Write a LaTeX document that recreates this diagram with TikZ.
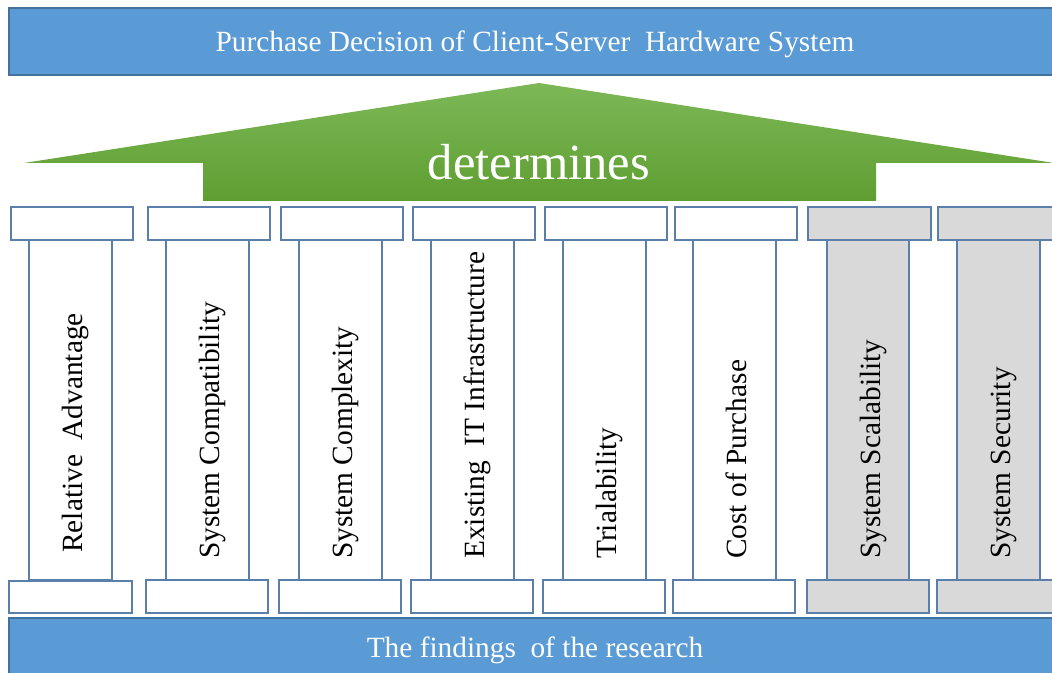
\documentclass[tikz,border=0pt]{standalone}
\usepackage{fontspec}
\setmainfont{Liberation Serif}
\definecolor{bannerblue}{HTML}{5B9BD5}
\definecolor{bannerline}{HTML}{41719C}
\definecolor{pillarline}{HTML}{5A7FAA}
\definecolor{pillargray}{HTML}{D9D9D9}
\definecolor{roofgreen}{HTML}{7DB857}
\definecolor{roofdark}{HTML}{5E9E31}

\begin{document}
\begin{tikzpicture}[x=0.75pt,y=-0.75pt,
  banner/.style={fill=bannerblue,draw=bannerline,line width=1.2pt},
  part/.style={fill=white,draw=pillarline,line width=1.1pt},
  greypart/.style={fill=pillargray,draw=pillarline,line width=1.1pt},
  bigtext/.style={text=white,font=\fontsize{22}{26}\selectfont,inner sep=0pt},
  pillartext/.style={rotate=90,anchor=base west,inner sep=0pt,font=\fontsize{22}{26}\selectfont}]

\useasboundingbox (0,0) rectangle (1052,673);
\clip (0,0) rectangle (1052,673);

%% banners
\draw [banner] (9,8) rectangle (1062,75);
\node [bigtext,anchor=base] (decision) at (535,52) {Purchase Decision of Client-Server\ \ Hardware System};
\draw [banner] (9,618) rectangle (1062,690);
\node [bigtext,anchor=base] (findings) at (535,657) {The findings\ \ of the research};

%% roof
\shade [top color=roofgreen,bottom color=roofdark] (24,163) -- (539,83) -- (1054,163) -- (876,163)
  -- (876,201) -- (203,201) -- (203,163) -- cycle;
\node [text=white,anchor=base,inner sep=0pt,font=\fontsize{38}{44}\selectfont] (determines) at (539,180) {determines};

%% pillars
% shafts
\draw [part] (29,240) rectangle (112,580);
\draw [part] (166,240) rectangle (249,580);
\draw [part] (299,240) rectangle (382,580);
\draw [part] (431,240) rectangle (514,580);
\draw [part] (563,240) rectangle (646,580);
\draw [part] (693,240) rectangle (776,580);
\draw [greypart] (827,240) rectangle (909,580);
\draw [greypart] (957,240) rectangle (1040,580);
% capitals
\draw [part] (11,207) rectangle (133,240);
\draw [part] (148,207) rectangle (270,240);
\draw [part] (281,207) rectangle (403,240);
\draw [part] (413,207) rectangle (535,240);
\draw [part] (545,207) rectangle (667,240);
\draw [part] (675,207) rectangle (797,240);
\draw [greypart] (808,207) rectangle (931,240);
\draw [greypart] (938,207) rectangle (1060,240);
% bases
\draw [part] (9,581) rectangle (132,613);
\draw [part] (146,580) rectangle (268,613);
\draw [part] (279,580) rectangle (401,613);
\draw [part] (411,580) rectangle (533,613);
\draw [part] (543,580) rectangle (665,613);
\draw [part] (673,580) rectangle (795,613);
\draw [greypart] (807,580) rectangle (929,613);
\draw [greypart] (937,580) rectangle (1059,613);
% labels
\node [pillartext] (advantage) at (82,553) {Relative\ \ Advantage};
\node [pillartext] (compatibility) at (219,559) {System Compatibility};
\node [pillartext] (complexity) at (352,559) {System Complexity};
\node [pillartext] (infrastructure) at (484,559) {Existing\ \ IT Infrastructure};
\node [pillartext] (trialability) at (616,559) {Trialability};
\node [pillartext] (cost) at (746,559) {Cost of Purchase};
\node [pillartext] (scalability) at (880,559) {System Scalability};
\node [pillartext] (security) at (1010,559) {System Security};

\end{tikzpicture}
\end{document}
